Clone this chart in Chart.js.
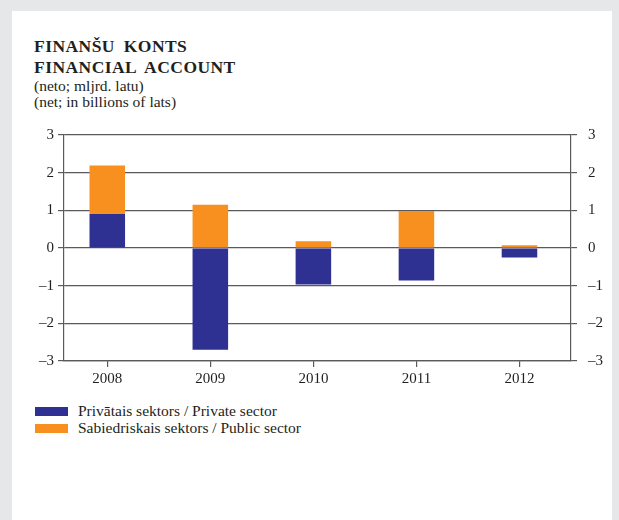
<!DOCTYPE html>
<html>
<head>
<meta charset="utf-8">
<script src="https://cdn.jsdelivr.net/npm/chart.js@4"></script>
<style>
  html, body { margin: 0; padding: 0; background: #e6e7e8; width: 619px; height: 520px; overflow: hidden; }
  #panel { position: absolute; left: 12px; top: 11px; width: 600px; height: 520px; background: #fff; }
  .t { position: absolute; left: 34px; font-family: "Liberation Serif", "Times New Roman", "DejaVu Serif", serif; color: #231f20; white-space: nowrap; }
  .title { font-weight: bold; font-size: 17.5px; letter-spacing: 0.45px; word-spacing: 4px; }
  .sub { font-size: 15.5px; }
  #wrap { position: absolute; left: 0; top: 115px; width: 619px; height: 280px; }
  #legend { position: absolute; left: 35px; top: 402px; font-family: "Liberation Serif", "Times New Roman", "DejaVu Serif", serif; font-size: 15.5px; color: #231f20; }
  #legend div { height: 17px; line-height: 17px; white-space: nowrap; }
  #legend span.box { display: inline-block; width: 33px; height: 9px; margin-right: 10px; vertical-align: 0px; }
</style>
</head>
<body>
<div id="panel"></div>
<div class="t title" style="top:36px">FINANŠU KONTS</div>
<div class="t title" style="top:57px">FINANCIAL ACCOUNT</div>
<div class="t sub" style="top:77px">(neto; mljrd. latu)</div>
<div class="t sub" style="top:93px">(net; in billions of lats)</div>
<div id="wrap"><canvas id="financial"></canvas></div>
<div id="legend"></div>
<script>
const years = ['2008', '2009', '2010', '2011', '2012']
const privateSector = [0.9, -2.7, -0.97, -0.86, -0.25]
const publicSector = [1.29, 1.15, 0.18, 0.98, 0.07]
const seriesNames = ['Privātais sektors / Private sector', 'Sabiedriskais sektors / Public sector']
const seriesColors = ['#2e3192', '#f7901e']

const font = { family: "'Liberation Serif', 'Times New Roman', 'DejaVu Serif', serif", size: 15 }
const gridColor = '#5a5a5a'
const minus = (v) => v < 0 ? '\u2013' + Math.abs(v) : String(v)

// years sit on a numeric x axis so the span can be set like the original
const toPoints = (values) => values.map((v, i) => ({ x: i, y: v }))

const data = {
  datasets: [
    { label: seriesNames[0], data: toPoints(privateSector), backgroundColor: seriesColors[0] },
    { label: seriesNames[1], data: toPoints(publicSector), backgroundColor: seriesColors[1] }
  ]
}

const ctx = document.querySelector('#financial')
new Chart(ctx, {
  type: 'bar',
  data: data,
  options: {
    responsive: true,
    maintainAspectRatio: false,
    animation: false,
    layout: { padding: { top: 18 } },
    datasets: { bar: { barPercentage: 0.345, categoryPercentage: 1 } },
    plugins: { legend: { display: false }, tooltip: { enabled: false } },
    scales: {
      x: {
        type: 'linear',
        stacked: true,
        offset: false,
        min: -0.42,
        max: 4.5,
        afterFit: (s) => { s.height = 34 },
        afterBuildTicks: (s) => { s.ticks = years.map((y, i) => ({ value: i })) },
        grid: { offset: false, drawOnChartArea: false, drawTicks: true, tickLength: 6, color: gridColor, lineWidth: 1.2 },
        border: { color: gridColor, width: 1.2 },
        ticks: { color: '#231f20', font: font, padding: 3, callback: (v) => years[v] }
      },
      y: {
        stacked: true,
        min: -3, max: 3,
        afterFit: (s) => { s.width = 64 },
        grid: { color: gridColor, lineWidth: 1.2, tickLength: 6 },
        border: { color: gridColor, width: 1.2 },
        ticks: { stepSize: 1, color: '#231f20', font: font, padding: 4, callback: minus }
      },
      y2: {
        position: 'right',
        min: -3, max: 3,
        afterFit: (s) => { s.width = 48 },
        grid: { drawOnChartArea: false, color: gridColor, lineWidth: 1.2, tickLength: 6 },
        border: { color: gridColor, width: 1.2 },
        ticks: { stepSize: 1, color: '#231f20', font: font, padding: 11, callback: minus }
      }
    }
  }
})

const legend = document.querySelector('#legend')
seriesNames.forEach((name, i) => {
  const row = document.createElement('div')
  row.innerHTML = '<span class="box" style="background:' + seriesColors[i] + '"></span>' + name
  legend.appendChild(row)
})
</script>
</body>
</html>
